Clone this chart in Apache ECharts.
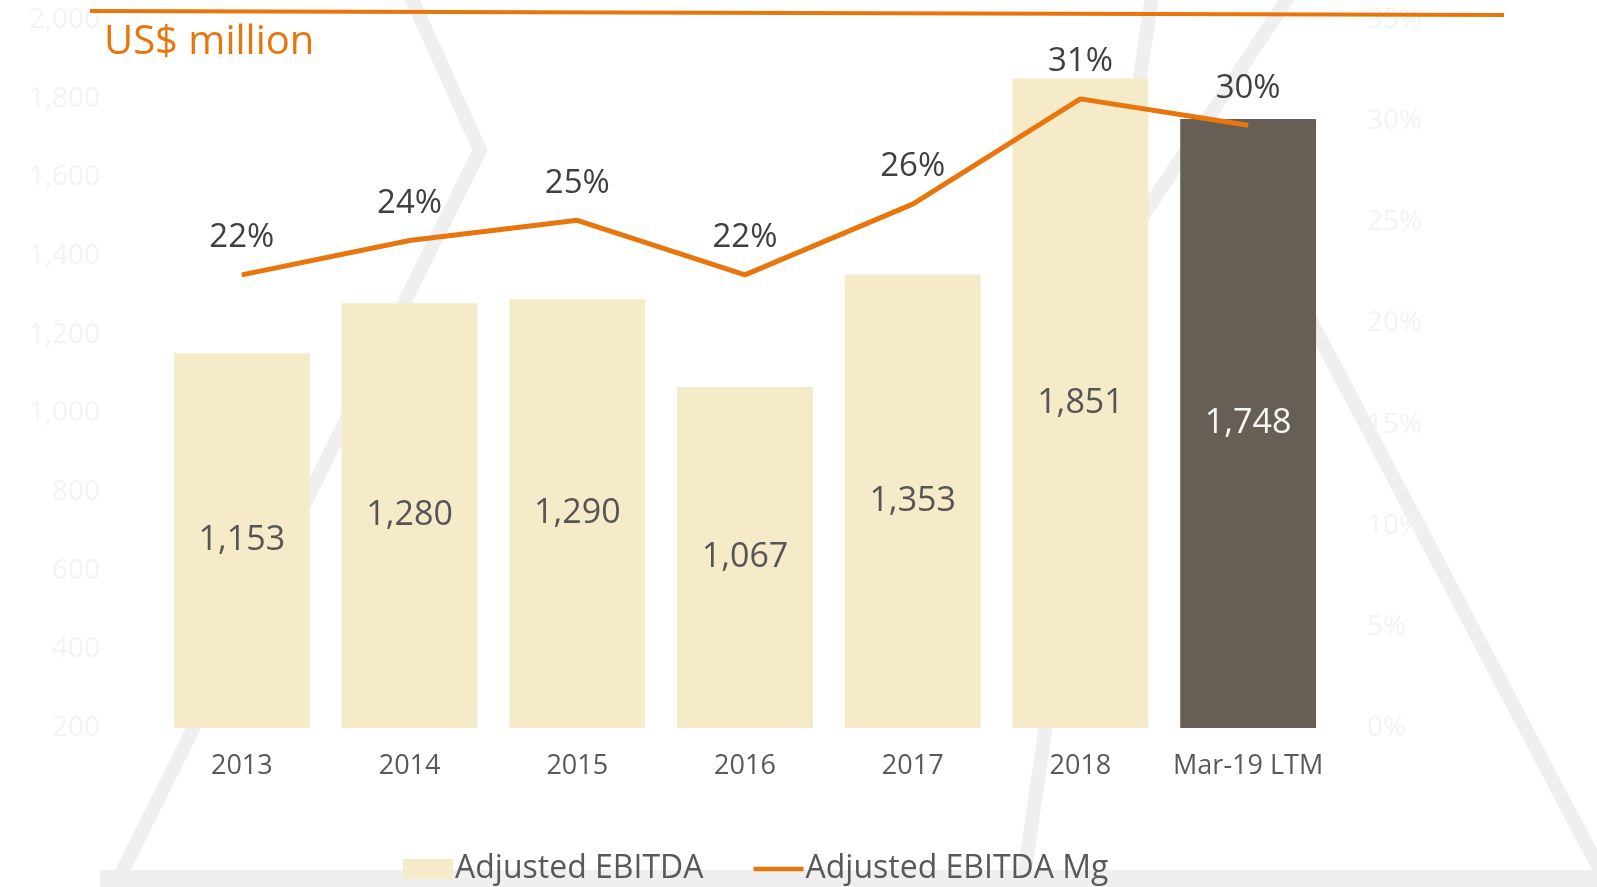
<!DOCTYPE html>
<html>
<head>
<meta charset="UTF-8">
<title>Adjusted EBITDA</title>
<style>
  html, body { margin: 0; padding: 0; background: #fff; }
  #main { width: 1597px; height: 887px; }
</style>
</head>
<body>
<div id="main"></div>
<script src="https://cdn.jsdelivr.net/npm/echarts@6/dist/echarts.min.js"></script>
<script>
// data
var categories = ['2013', '2014', '2015', '2016', '2017', '2018', 'Mar-19 LTM'];
var ebitda = [1153, 1280, 1290, 1067, 1353, 1851, 1748];
var margin = [22.4, 24.1, 25.1, 22.4, 25.9, 31.1, 29.8];
var leftTicks = [200, 2000, 200];   // min, max, step
var rightTicks = [0, 35, 5];

var orange = '#E9760D';
var cream = '#F5EBC9';
var dark = '#675E55';
var font = 'Open Sans';

var myChart = echarts.init(document.getElementById('main'));

var barData = [];
for (var i = 0; i < ebitda.length; i++) {
  var last = i == ebitda.length - 1;
  barData.push({
    value: ebitda[i],
    itemStyle: { color: last ? dark : cream },
    label: { color: last ? '#f7f7f7' : '#555' }
  });
}

// faint background shapes
var bgStroke = { stroke: '#efefef', lineWidth: 14, fill: null };
var option = {
  animation: false,
  textStyle: { fontFamily: font },
  graphic: [
    { type: 'polyline', z: -10, shape: { points: [[410, -5], [480, 150], [118, 880]] }, style: bgStroke },
    { type: 'line', z: -10, shape: { x1: 1152, y1: -5, x2: 1022, y2: 890 }, style: bgStroke },
    { type: 'line', z: -10, shape: { x1: 1290, y1: -5, x2: 1100, y2: 280 }, style: bgStroke },
    { type: 'line', z: -10, shape: { x1: 1300, y1: 300, x2: 1600, y2: 870 }, style: bgStroke },
    { type: 'rect', z: -10, shape: { x: 100, y: 870, width: 1497, height: 20 }, style: { fill: '#efefef' } },
    { type: 'line', z: 10, shape: { x1: 90, y1: 11, x2: 1504, y2: 15 }, style: { stroke: orange, lineWidth: 4 } },
    { type: 'text', z: 10, left: 104, top: 23, style: { text: 'US$ million', fill: orange, font: '40px "Open Sans"' } }
  ],
  grid: { left: 158, right: 265, top: 20, bottom: 159 },
  legend: {
    left: 398,
    top: 848,
    itemWidth: 50,
    itemHeight: 20,
    itemGap: 50,
    textStyle: { fontSize: 32, color: '#595959', fontFamily: font, padding: [0, 0, 0, -3] },
    data: [
      { name: 'Adjusted EBITDA', icon: 'rect' },
      { name: 'Adjusted EBITDA Mg', icon: 'path://M0,0 L54,0 L54,5 L0,5 Z' }
    ]
  },
  xAxis: {
    type: 'category',
    data: categories,
    axisLine: { show: false },
    axisTick: { show: false },
    axisLabel: { interval: 0, fontSize: 27, color: '#595959', margin: 25, fontFamily: font }
  },
  yAxis: [
    {
      type: 'value',
      min: leftTicks[0], max: leftTicks[1], interval: leftTicks[2],
      splitLine: { show: false },
      axisLabel: {
        fontSize: 28, color: '#f3f3f3', margin: 58, fontFamily: font,
        formatter: function (v) { return v.toLocaleString('en-US'); }
      }
    },
    {
      type: 'value',
      min: rightTicks[0], max: rightTicks[1], interval: rightTicks[2],
      splitLine: { show: false },
      axisLabel: { fontSize: 28, color: '#f3f3f3', margin: 35, fontFamily: font, formatter: '{value}%' }
    }
  ],
  series: [
    {
      name: 'Adjusted EBITDA',
      type: 'bar',
      barCategoryGap: '19%',
      itemStyle: { color: cream },
      label: {
        show: true, position: 'inside', fontSize: 34, fontFamily: font,
        formatter: function (p) { return p.value.toLocaleString('en-US'); }
      },
      data: barData
    },
    {
      name: 'Adjusted EBITDA Mg',
      type: 'line',
      yAxisIndex: 1,
      symbol: 'circle',
      symbolSize: 1,
      lineStyle: { color: orange, width: 5 },
      itemStyle: { color: orange },
      label: {
        show: true, position: 'top', distance: 20, fontSize: 33, color: '#404040', fontFamily: font,
        formatter: function (p) { return Math.round(p.value) + '%'; }
      },
      data: margin
    }
  ]
};
myChart.setOption(option);
</script>
</body>
</html>
